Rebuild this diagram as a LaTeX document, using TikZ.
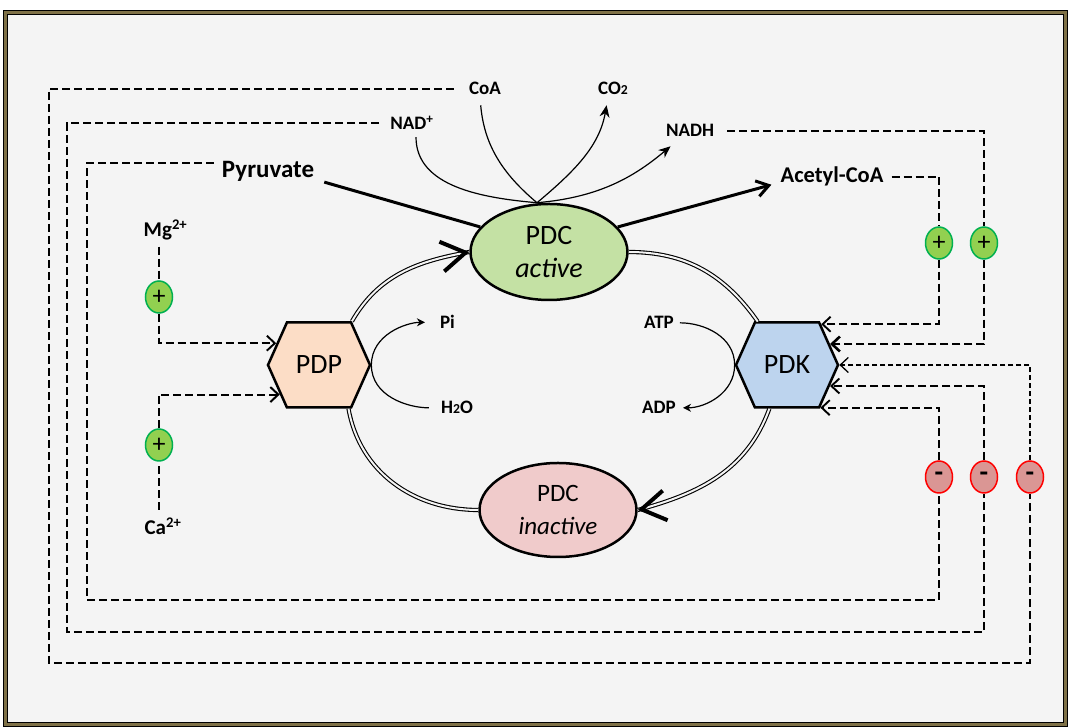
\documentclass[tikz,border=0pt]{standalone}
\usepackage{fontspec}
\setmainfont{Carlito}
\usetikzlibrary{arrows.meta,shapes.geometric,shapes.symbols}

\definecolor{bggray}{HTML}{F4F4F4}
\definecolor{frameolive}{HTML}{7F7147}
\definecolor{activegreen}{HTML}{C4E1A4}
\definecolor{inactivepink}{HTML}{F0CBCB}
\definecolor{pdppeach}{HTML}{FCDDC6}
\definecolor{pdkblue}{HTML}{BDD4EE}
\definecolor{plusfill}{HTML}{92D050}
\definecolor{plusline}{HTML}{00B050}
\definecolor{minusfill}{HTML}{DA9694}
\definecolor{minusline}{HTML}{FF0000}
\newcommand{\smallnum}[1]{\scalebox{0.72}{#1}}

\begin{document}
\begin{tikzpicture}[x=1pt, y=1pt, font=\fontsize{19}{22}\selectfont\bfseries]
\tikzstyle{pdcstate} = [ellipse, draw, line width=2.5pt, align=center, inner sep=0pt]
\tikzstyle{enzyme} = [signal, signal to=east and west, signal pointer angle=132, draw, line width=2.5pt, minimum width=102pt, minimum height=85pt, inner sep=0pt, font=\fontsize{28}{33}\selectfont]
\tikzstyle{metab} = [inner sep=2pt, anchor=base]
\tikzstyle{actsign} = [ellipse, draw=plusline, fill=plusfill, line width=1.5pt, minimum width=27pt, minimum height=32pt, inner sep=0pt, font=\fontsize{26}{26}\selectfont]
\tikzstyle{inhsign} = [actsign, draw=minusline, fill=minusfill, font=\fontsize{28}{28}\selectfont\bfseries]
\tikzstyle{regline} = [line width=1.9pt, dash pattern=on 8pt off 4pt]
\tikzstyle{regarrow} = [regline, -{Straight Barb[length=8pt, width=15pt]}]
\tikzstyle{cycleline} = [line width=1.1pt, double=bggray, double distance=2pt]
\tikzstyle{bigtip} = [line width=4pt, -{Straight Barb[length=24pt, width=30pt]}]
\tikzstyle{mainflow} = [line width=3pt]
\tikzstyle{sideflow} = [line width=1.2pt]

\useasboundingbox (0,0) rectangle (1069,727);
\draw[line width=1pt, double=frameolive, double distance=3pt, fill=bggray] (5.5,2.5) rectangle (1065.5,714.5);

\node[pdcstate, fill=activegreen, minimum width=157pt, minimum height=96pt, font=\fontsize{28}{33}\selectfont] (active) at (549,475) {PDC\\\textit{active}};
\node[pdcstate, fill=inactivepink, minimum width=157pt, minimum height=94pt, font=\fontsize{25}{33}\selectfont] (inactive) at (558,217) {PDC\\\textit{inactive}};
\node[enzyme, fill=pdppeach] (pdp) at (319,362) {PDP};
\node[enzyme, fill=pdkblue] (pdk) at (787,362) {PDK};

\node[metab, font=\fontsize{25}{30}\selectfont\bfseries] (pyruvate) at (268,549) {Pyruvate};
\node[metab, font=\fontsize{22.5}{27}\selectfont\bfseries] (acetyl) at (832,544) {Acetyl-CoA};
\node[metab] (coa) at (485,632) {CoA};
\node[metab] (co2) at (613,632) {CO\smallnum{2}};
\node[metab] (nad) at (412,597) {NAD\textsuperscript{+}};
\node[metab] (nadh) at (690,590) {NADH};
\node[metab, font=\fontsize{21}{24}\selectfont\bfseries] (mg) at (165.5,490) {Mg\textsuperscript{2+}};
\node[metab, font=\fontsize{21}{24}\selectfont\bfseries] (ca) at (163,192) {Ca\textsuperscript{2+}};
\node[metab] (pi) at (447.5,398) {Pi};
\node[metab] (h2o) at (457,313) {H\smallnum{2}O};
\node[metab] (atp) at (659,398) {ATP};
\node[metab] (adp) at (659,313) {ADP};

\node[actsign] (plusmg) at (159,430) {+};
\node[actsign] (plusca) at (159,282) {+};
\node[actsign] (plusacetyl) at (939,484) {+};
\node[actsign] (plusnadh) at (984,484) {+};
\node[inhsign] (minuspyr) at (939,250) {-};
\node[inhsign] (minusnad) at (984,250) {-};
\node[inhsign] (minuscoa) at (1030,250) {-};

\coordinate (looppyr) at (87,127);
\coordinate (loopnad) at (67,95);
\coordinate (loopcoa) at (49,64);
\coordinate (top) at ([xshift=-12pt]active.north);

\draw[cycleline] (pdp.53) to[out=60, in=190] (active.west);
\draw[bigtip] ([xshift=-3pt, yshift=-0.5pt]active.west) -- (active.west);
\draw[cycleline] (active.east) to[out=0, in=125] (pdk.124);
\draw[cycleline] (pdk.248) to[out=250, in=15] (inactive.east);
\draw[bigtip] ([xshift=3pt, yshift=0.5pt]inactive.east) -- (inactive.east);
\draw[cycleline] (inactive.west) to[out=180, in=-80] (pdp.-56);

\draw[mainflow] ([xshift=8pt, yshift=2pt]pyruvate.south east) -- (active.160);
\draw[mainflow, -{Straight Barb[length=12pt, width=16pt]}] (active.20) -- ([xshift=-7pt, yshift=4pt]acetyl.south west);

\draw[sideflow, -{Stealth[length=12pt, width=10pt]}, shorten <=8pt, shorten >=8pt] ([xshift=-5pt]coa.south) to[out=-85, in=140] (top) to[out=40, in=-100] ([xshift=-5pt]co2.south);
\draw[sideflow, -{Stealth[length=12pt, width=10pt]}, shorten <=5pt, shorten >=11pt] ([xshift=4pt]nad.south) to[out=-90, in=175] (top) to[out=5, in=-140] ([xshift=-11pt]nadh.south);
\draw[sideflow, -{Stealth[length=8pt, width=8pt]}, shorten <=10pt, shorten >=13pt] (h2o.west) to[out=180, in=-90] (pdp.east) to[out=90, in=180] (pi.west);
\draw[sideflow, -{Stealth[length=8pt, width=8pt]}, shorten <=4pt, shorten >=5pt] (atp.east) to[out=0, in=90] (pdk.west) to[out=-90, in=0] (adp.east);

\draw[regline, shorten <=4pt] (plusmg |- mg.south) -- (plusmg);
\draw[regarrow] (plusmg) |- (pdp.153);
\draw[regline, shorten <=6pt] (plusca |- ca.north) -- (plusca);
\draw[regarrow, line width=2pt] (plusca.north) -- (plusca.north |- pdp.217) -- (pdp.217);

\draw[regline, shorten <=6pt] (acetyl.east) -| (plusacetyl);
\draw[regarrow] (plusacetyl) |- (pdk.50);
\draw[regline, shorten <=11pt] (nadh.east) -| (plusnadh);
\draw[regarrow, line width=2.6pt] (plusnadh) |- (pdk.26);

\draw[regline, shorten <=6pt] ([yshift=9pt]pyruvate.west) -| (looppyr) -| (minuspyr);
\draw[regarrow] (minuspyr) |- (pdk.-52);
\draw[regline, shorten <=9pt] (nad.west) -| (loopnad) -| (minusnad);
\draw[regarrow] (minusnad) |- (pdk.-26);
\draw[regline, shorten <=13pt] (coa.west) -| (loopcoa) -| (minuscoa);
\draw[regarrow, line width=1.3pt, dash pattern=on 5pt off 3pt] (minuscoa) |- (pdk.east);
\end{tikzpicture}
\end{document}
